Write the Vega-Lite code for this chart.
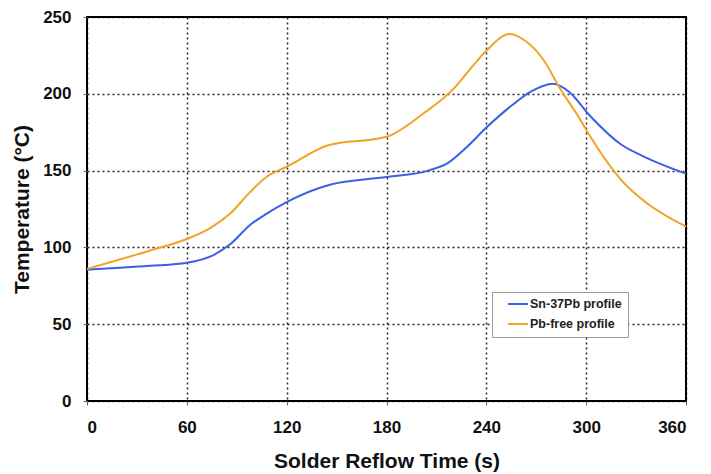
{
  "$schema": "https://vega.github.io/schema/vega-lite/v6.json",
  "width": 599,
  "height": 384,
  "autosize": "none",
  "padding": {"left": 87, "top": 17, "right": 25, "bottom": 73},
  "background": "white",
  "config": {
    "font": "Liberation Sans",
    "view": {"stroke": "black", "strokeWidth": 2}
  },
  "data": {
    "values": [
      {"t": 0, "T": 85.5, "s": "Sn-37Pb profile"},
      {"t": 38, "T": 88, "s": "Sn-37Pb profile"},
      {"t": 60, "T": 90, "s": "Sn-37Pb profile"},
      {"t": 76, "T": 95, "s": "Sn-37Pb profile"},
      {"t": 86, "T": 102, "s": "Sn-37Pb profile"},
      {"t": 98, "T": 114.6, "s": "Sn-37Pb profile"},
      {"t": 108, "T": 122, "s": "Sn-37Pb profile"},
      {"t": 120, "T": 129.5, "s": "Sn-37Pb profile"},
      {"t": 146, "T": 140.8, "s": "Sn-37Pb profile"},
      {"t": 180, "T": 145.8, "s": "Sn-37Pb profile"},
      {"t": 205, "T": 150, "s": "Sn-37Pb profile"},
      {"t": 217, "T": 155, "s": "Sn-37Pb profile"},
      {"t": 228, "T": 165, "s": "Sn-37Pb profile"},
      {"t": 240, "T": 178, "s": "Sn-37Pb profile"},
      {"t": 256, "T": 193, "s": "Sn-37Pb profile"},
      {"t": 267, "T": 201.5, "s": "Sn-37Pb profile"},
      {"t": 280, "T": 206.5, "s": "Sn-37Pb profile"},
      {"t": 290, "T": 201, "s": "Sn-37Pb profile"},
      {"t": 302, "T": 186, "s": "Sn-37Pb profile"},
      {"t": 321, "T": 167, "s": "Sn-37Pb profile"},
      {"t": 335, "T": 159, "s": "Sn-37Pb profile"},
      {"t": 360, "T": 148, "s": "Sn-37Pb profile"},
      {"t": 0, "T": 86, "s": "Pb-free profile"},
      {"t": 38, "T": 98, "s": "Pb-free profile"},
      {"t": 60, "T": 105.5, "s": "Pb-free profile"},
      {"t": 74, "T": 112.6, "s": "Pb-free profile"},
      {"t": 86, "T": 122, "s": "Pb-free profile"},
      {"t": 98, "T": 136, "s": "Pb-free profile"},
      {"t": 108, "T": 146, "s": "Pb-free profile"},
      {"t": 120, "T": 152.5, "s": "Pb-free profile"},
      {"t": 145, "T": 166.5, "s": "Pb-free profile"},
      {"t": 180, "T": 172, "s": "Pb-free profile"},
      {"t": 202, "T": 187, "s": "Pb-free profile"},
      {"t": 221, "T": 204, "s": "Pb-free profile"},
      {"t": 231, "T": 217, "s": "Pb-free profile"},
      {"t": 240, "T": 228, "s": "Pb-free profile"},
      {"t": 254, "T": 239, "s": "Pb-free profile"},
      {"t": 264, "T": 234, "s": "Pb-free profile"},
      {"t": 275, "T": 221, "s": "Pb-free profile"},
      {"t": 284, "T": 204, "s": "Pb-free profile"},
      {"t": 296, "T": 184, "s": "Pb-free profile"},
      {"t": 302, "T": 173, "s": "Pb-free profile"},
      {"t": 321, "T": 144, "s": "Pb-free profile"},
      {"t": 335, "T": 130, "s": "Pb-free profile"},
      {"t": 360, "T": 113.5, "s": "Pb-free profile"}
    ]
  },
  "mark": {"type": "line", "interpolate": "monotone", "strokeWidth": 2},
  "encoding": {
    "x": {
      "field": "t", "type": "quantitative",
      "scale": {"domain": [0, 360], "nice": false},
      "axis": {
        "values": [0, 60, 120, 180, 240, 300, 360],
        "title": "Solder Reflow Time (s)",
        "titleFontSize": 21, "titleFontWeight": "bold", "titleColor": "#111",
        "titleY": 60, "titleBaseline": "middle",
        "labelFontSize": 17, "labelFontWeight": "bold", "labelColor": "#111",
        "labelPadding": 14, "tickSize": 4, "tickColor": "#666",
        "domain": false,
        "grid": true, "gridColor": "black", "gridDash": [2, 3], "gridWidth": 1.5, "gridOpacity": 0.85
      }
    },
    "y": {
      "field": "T", "type": "quantitative",
      "scale": {"domain": [0, 250], "nice": false},
      "axis": {
        "values": [0, 50, 100, 150, 200, 250],
        "title": "Temperature (°C)",
        "titleFontSize": 21, "titleFontWeight": "bold", "titleColor": "#111",
        "titleX": -65, "titleY": 192, "titleBaseline": "middle", "titleAlign": "center", "titleAngle": -90,
        "labelFontSize": 17, "labelFontWeight": "bold", "labelColor": "#111",
        "labelPadding": 12, "tickSize": 4, "tickColor": "#666",
        "domain": false,
        "grid": true, "gridColor": "black", "gridDash": [2, 3], "gridWidth": 1.5, "gridOpacity": 0.85
      }
    },
    "color": {
      "field": "s", "type": "nominal",
      "scale": {"domain": ["Sn-37Pb profile", "Pb-free profile"], "range": ["#3b5fe6", "#f2a227"]},
      "legend": {
        "title": null,
        "orient": "none", "legendX": 405, "legendY": 275,
        "symbolType": "stroke", "symbolSize": 400, "symbolStrokeWidth": 2,
        "symbolOffset": 9, "clipHeight": 12,
        "labelFontSize": 12.5, "labelFontWeight": "bold", "labelColor": "#222",
        "labelOffset": 1, "rowPadding": 7,
        "padding": 6, "strokeColor": "#999", "fillColor": "white"
      }
    }
  }
}
